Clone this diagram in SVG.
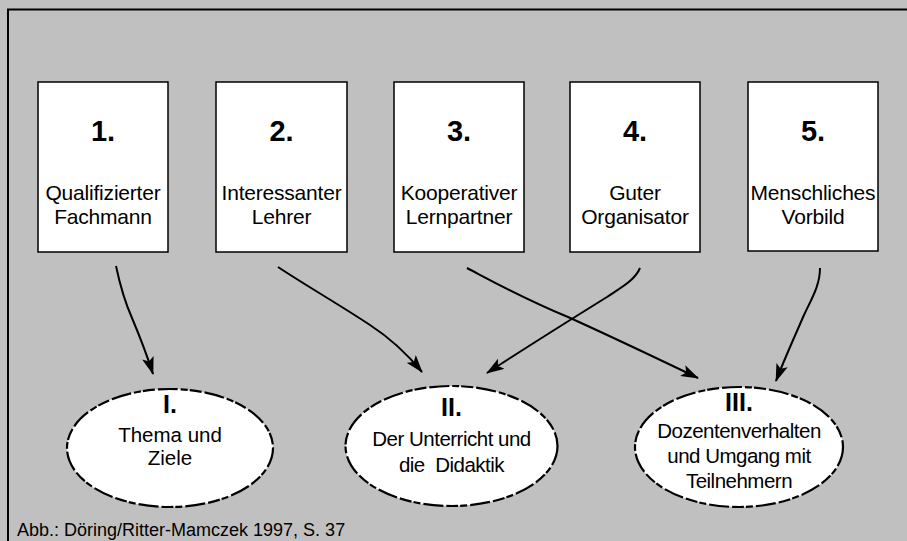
<svg xmlns="http://www.w3.org/2000/svg" width="907" height="541" viewBox="0 0 907 541">
<defs>
<style>
.box{fill:#fff;stroke:#000;stroke-width:1.5}
.num{font-family:"Liberation Sans",Arial,sans-serif;font-weight:bold;font-size:29px;text-anchor:middle;fill:#000}
.lbl{font-family:"Liberation Sans",Arial,sans-serif;font-size:21px;text-anchor:middle;fill:#000;letter-spacing:-0.2px}
.enum{font-family:"Liberation Sans",Arial,sans-serif;font-weight:bold;font-size:25px;text-anchor:middle;fill:#000}
.elbl{font-family:"Liberation Sans",Arial,sans-serif;font-size:20.5px;text-anchor:middle;fill:#000;letter-spacing:-0.5px}
.ell{fill:#fff;stroke:#000;stroke-width:2.2;stroke-dasharray:20 3 7 2 12 3}
.con{fill:none;stroke:#000;stroke-width:2;marker-end:url(#ah)}
</style>
<marker id="ah" markerUnits="userSpaceOnUse" markerWidth="18" markerHeight="12" refX="17" refY="6" orient="auto" viewBox="0 0 18 12">
<path d="M0,0 L18,6 L0,12 L4,6 z" fill="#000"/>
</marker>
</defs>
<rect x="0" y="0" width="907" height="541" fill="#c0c0c0"/>
<path d="M8,541 L8,9.5 L907,9.5" fill="none" stroke="#000" stroke-width="2"/>

<g id="connectors">
<path class="con" d="M116,266 C120,285 124,300 132,318 C140,337 146,352 153,374"/>
<path class="con" d="M278,267 C305,285 340,305 370,325 C390,338 408,355 422,372"/>
<path class="con" d="M467,268 C490,280 520,297 568,317 C610,336 650,355 698,378"/>
<path class="con" d="M640,268 C635,280 622,287 607,297 C570,320 530,345 487,373"/>
<path class="con" d="M820,268 C820,285 812,298 804,315 C794,338 784,360 776,381"/>
</g>

<g id="n1">
<rect class="box" x="38" y="82" width="130" height="170"/>
<text class="num" x="103" y="141">1.</text>
<text class="lbl" x="103" y="200">Qualifizierter</text>
<text class="lbl" x="103" y="224">Fachmann</text>
</g>
<g id="n2">
<rect class="box" x="216" y="82" width="131" height="170"/>
<text class="num" x="281.5" y="141">2.</text>
<text class="lbl" x="281.5" y="200">Interessanter</text>
<text class="lbl" x="281.5" y="224">Lehrer</text>
</g>
<g id="n3">
<rect class="box" x="394" y="82" width="130" height="170"/>
<text class="num" x="459" y="141">3.</text>
<text class="lbl" x="459" y="200">Kooperativer</text>
<text class="lbl" x="459" y="224">Lernpartner</text>
</g>
<g id="n4">
<rect class="box" x="570" y="82" width="130" height="170"/>
<text class="num" x="635" y="141">4.</text>
<text class="lbl" x="635" y="200">Guter</text>
<text class="lbl" x="635" y="224">Organisator</text>
</g>
<g id="n5">
<rect class="box" x="748" y="82" width="130" height="169"/>
<text class="num" x="813" y="141">5.</text>
<text class="lbl" x="813" y="200">Menschliches</text>
<text class="lbl" x="813" y="224">Vorbild</text>
</g>

<g id="e1">
<ellipse class="ell" cx="170" cy="448" rx="103" ry="59"/>
<text class="enum" x="170" y="413">I.</text>
<text class="elbl" x="170" y="442" style="letter-spacing:0">Thema und</text>
<text class="elbl" x="170" y="465" style="letter-spacing:0">Ziele</text>
</g>
<g id="e2">
<ellipse class="ell" cx="451.5" cy="446" rx="106" ry="60"/>
<text class="enum" x="451.5" y="416">II.</text>
<text class="elbl" x="451.5" y="446">Der Unterricht und</text>
<text class="elbl" x="451.5" y="472" xml:space="preserve">die  Didaktik</text>
</g>
<g id="e3">
<ellipse class="ell" cx="739" cy="447" rx="104" ry="60"/>
<text class="enum" x="739" y="411">III.</text>
<text class="elbl" x="739" y="438">Dozentenverhalten</text>
<text class="elbl" x="739" y="463">und Umgang mit</text>
<text class="elbl" x="739" y="488">Teilnehmern</text>
</g>

<text x="17" y="536" font-family="Liberation Sans, Arial, sans-serif" font-size="18px" fill="#000">Abb.: Döring/Ritter-Mamczek 1997, S. 37</text>
</svg>
